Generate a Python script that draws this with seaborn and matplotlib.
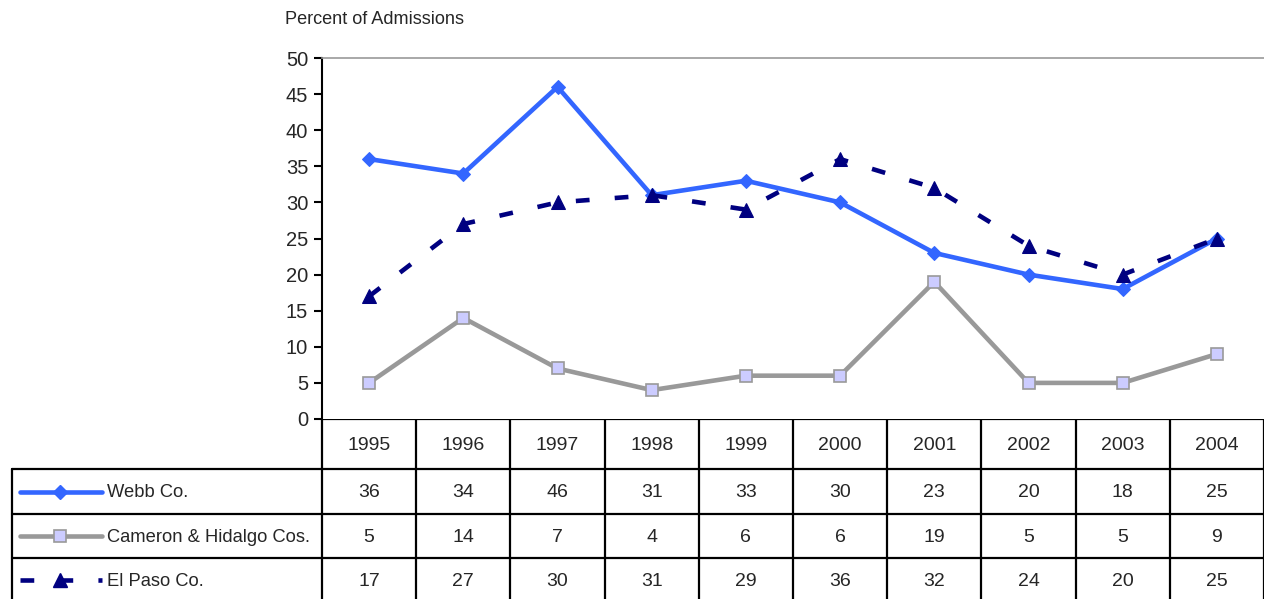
import pandas as pd
import matplotlib
matplotlib.use("Agg")
import matplotlib.pyplot as plt
import seaborn as sns
from matplotlib.lines import Line2D

years = ["1995", "1996", "1997", "1998", "1999", "2000", "2001", "2002", "2003", "2004"]
webb = [36, 34, 46, 31, 33, 30, 23, 20, 18, 25]
cameron = [5, 14, 7, 4, 6, 6, 19, 5, 5, 9]
el_paso = [17, 27, 30, 31, 29, 36, 32, 24, 20, 25]
series_names = ["Webb Co.", "Cameron & Hidalgo Cos.", "El Paso Co."]
y_ticks = [0, 5, 10, 15, 20, 25, 30, 35, 40, 45, 50]

sns.set_style("white")
plt.rcParams['font.family'] = ['Liberation Sans', 'DejaVu Sans']

W, H = 1264, 599
fig = plt.figure(figsize=(W / 100, H / 100), dpi=100)

# plot area in pixels
left, right, top, bottom = 322, 1264, 58, 419
ax = fig.add_axes([left / W, 1 - bottom / H, (right - left) / W, (bottom - top) / H])

df = pd.DataFrame({"x": range(len(years)), "webb": webb, "cameron": cameron, "el_paso": el_paso})

styles = [
	dict(y="webb", color="#3366ff", marker="D", markersize=7, markerfacecolor="#3366ff",
		 markeredgecolor="#3366ff", linestyle="-"),
	dict(y="cameron", color="#999999", marker="s", markersize=8, markerfacecolor="#ccccff",
		 markeredgecolor="#999999", markeredgewidth=1.2, linestyle="-"),
	dict(y="el_paso", color="#000080", marker="^", markersize=10, markerfacecolor="#000080",
		 markeredgecolor="#000080", linestyle=(0, (3, 5.5))),
]
for st in styles:
	sns.lineplot(data=df, x="x", ax=ax, linewidth=3.3, clip_on=False, **st)

ax.set_xlim(-0.5, len(years) - 0.5)
ax.set_ylim(0, 50)
ax.set_yticks(y_ticks)
ax.set_yticklabels([str(t) for t in y_ticks], fontsize=14.5)
ax.set_xticks([])
ax.set_xlabel("")
ax.set_ylabel("")
for s in ["right", "bottom"]:
	ax.spines[s].set_visible(False)
ax.spines["top"].set_color("#999999")
ax.spines["top"].set_linewidth(1.2)
ax.spines["left"].set_color("black")
ax.spines["left"].set_linewidth(1.5)
ax.tick_params(axis="y", which="major", left=True, length=6, width=1.5, color="black", pad=4)

fig.text(285 / W, 1 - 19 / H, "Percent of Admissions", fontsize=13.1, va="center", ha="left")

# data table drawn on an overlay in pixel coordinates
tab = fig.add_axes([0, 0, 1, 1], zorder=-1)
tab.set_xlim(0, W)
tab.set_ylim(H, 0)
tab.axis("off")

col_w = (right - left) / len(years)
row_edges = [bottom, 469, 514, 558, 602]
lw_tab = 1.6
tab.add_line(Line2D([left, right], [bottom, bottom], color="black", lw=lw_tab))
for yy in row_edges[1:4]:
	tab.add_line(Line2D([12, right], [yy, yy], color="black", lw=lw_tab))
tab.add_line(Line2D([12, 12], [row_edges[1], H], color="black", lw=lw_tab))
for i in range(len(years) + 1):
	xx = left + i * col_w
	tab.add_line(Line2D([xx, xx], [bottom, H], color="black", lw=lw_tab))

for i, yr in enumerate(years):
	cx = left + (i + 0.5) * col_w
	tab.text(cx, (row_edges[0] + row_edges[1]) / 2 + 1, yr, ha="center", va="center", fontsize=14)
	for r, vals in enumerate([webb, cameron, el_paso]):
		cy = (row_edges[r + 1] + row_edges[r + 2]) / 2 + 1
		tab.text(cx, cy, str(vals[i]), ha="center", va="center", fontsize=14)

# legend keys in the row headers
for r, (name, st) in enumerate(zip(series_names, styles)):
	cy = (row_edges[r + 1] + row_edges[r + 2]) / 2 + 1
	kw = {k: v for k, v in st.items() if k != "y"}
	tab.add_line(Line2D([20, 60, 102], [cy - 1, cy - 1, cy - 1], linewidth=3.3,
						solid_capstyle="round", markevery=[1], **kw))
	tab.text(107, cy, name, ha="left", va="center", fontsize=13.2)

fig.savefig("out.png", dpi=100)
